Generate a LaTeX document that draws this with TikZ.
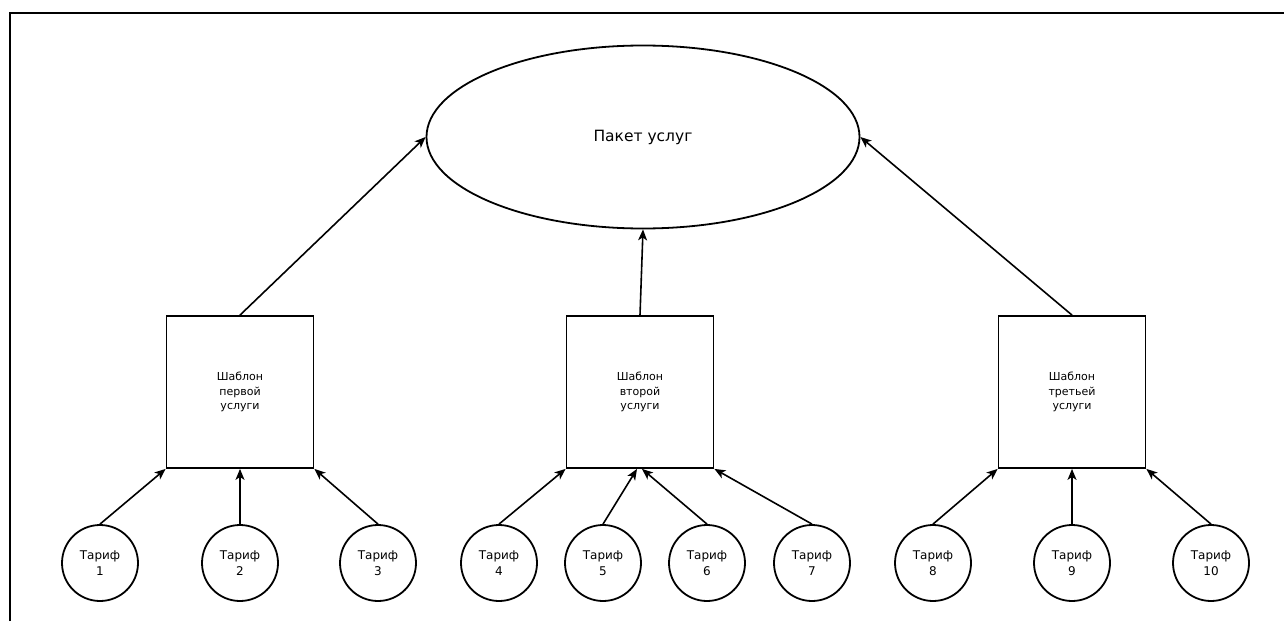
\documentclass[tikz,border=0pt]{standalone}
\usepackage{fontspec}
\setmainfont{DejaVu Sans}
\usetikzlibrary{arrows.meta,shapes.geometric}
\begin{document}
\begin{tikzpicture}[x=1pt,y=-1pt,
  tariff/.style={circle,draw,line width=1.8pt,minimum size=76pt,inner sep=0pt,
    align=center,font=\fontsize{12}{16}\selectfont},
  tmpl/.style={rectangle,draw,line width=1.8pt,minimum width=147pt,
    minimum height=152pt,inner sep=0pt,align=center,font=\fontsize{11}{14.5}\selectfont},
  pkg/.style={ellipse,draw,line width=1.8pt,minimum width=433pt,
    minimum height=183pt,inner sep=0pt,font=\fontsize{15.5}{18}\selectfont},
  link/.style={line width=1.6pt,-{Stealth[length=11pt,width=9pt,inset=3pt]}}
]
\useasboundingbox (0,0) rectangle (1284,621);
% frame along the left and top edges
\draw[line width=2.2pt] (10,621) |- (1284,13);

% service package
\node[pkg] (pkg) at (643,137) {Пакет услуг};

% service templates
\node[tmpl] (s1) at (240,392) {Шаблон\\первой\\услуги};
\node[tmpl] (s2) at (640,392) {Шаблон\\второй\\услуги};
\node[tmpl] (s3) at (1072,392) {Шаблон\\третьей\\услуги};

% tariffs
\foreach \n/\x in {1/100,2/240,3/378,4/499,5/603,6/707,7/812,8/933,9/1072,10/1211}
  \node[tariff] (t\n) at (\x,563) {Тариф\\\n};

% templates to package
\draw[link] (s1.north) -- (pkg.west);
\draw[link] (s2.north) -- (pkg.south);
\draw[link] (s3.north) -- (pkg.east);

% tariffs to templates
\draw[link] (t1.north) -- (s1.south west);
\draw[link] (t2.north) -- (s1.south);
\draw[link] (t3.north) -- (s1.south east);
\draw[link] (t4.north) -- (s2.south west);
\draw[link] (t5.north) -- ([xshift=-3pt]s2.south);
\draw[link] (t6.north) -- ([xshift=2pt]s2.south);
\draw[link] (t7.north) -- (s2.south east);
\draw[link] (t8.north) -- (s3.south west);
\draw[link] (t9.north) -- (s3.south);
\draw[link] (t10.north) -- (s3.south east);
\end{tikzpicture}
\end{document}
